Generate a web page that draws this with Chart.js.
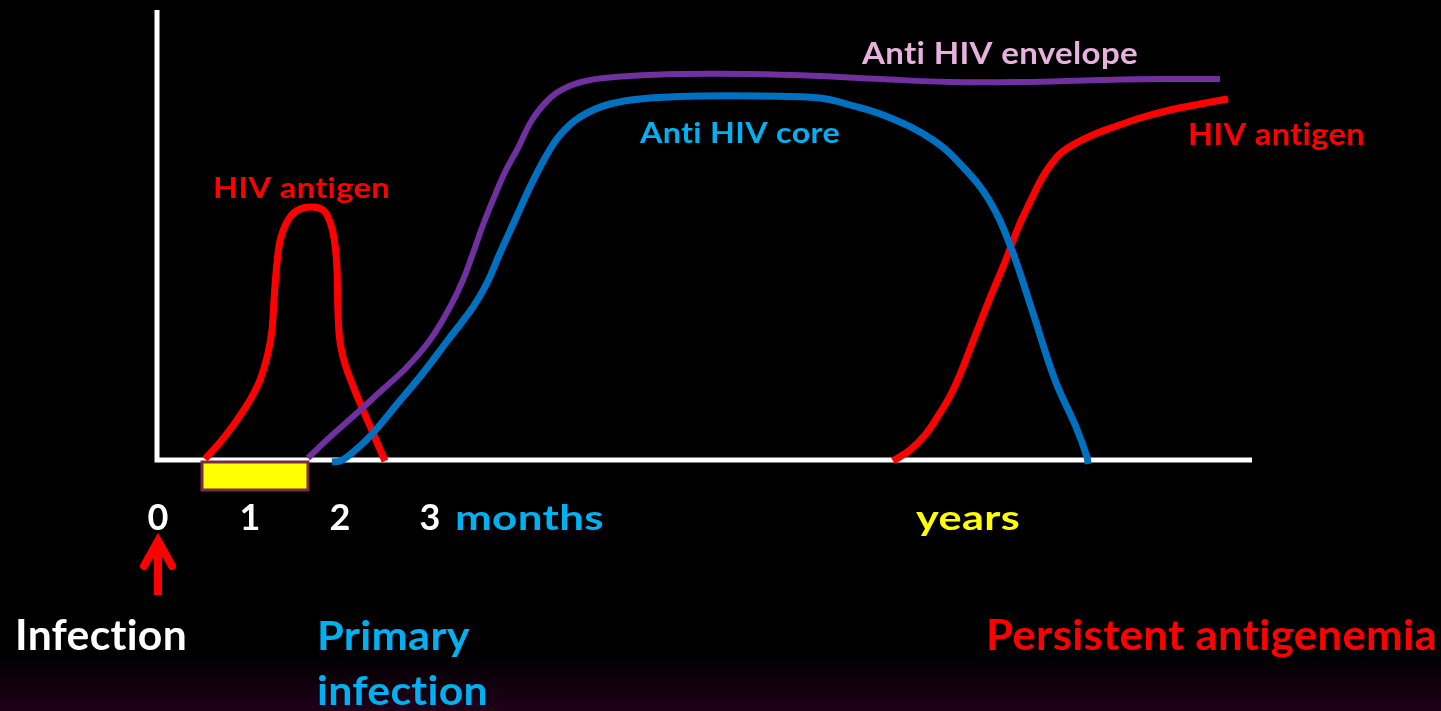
<!DOCTYPE html>
<html>
<head>
<meta charset="utf-8">
<script src="https://cdn.jsdelivr.net/npm/chart.js@4.4.1/dist/chart.umd.min.js"></script>
<style>
  html, body { margin: 0; padding: 0; }
  body { width: 1441px; height: 711px; overflow: hidden;
         background: linear-gradient(to bottom, #000 0px, #000 655px, #200019 711px); }
  #wrap { position: absolute; left: 0; top: 0; width: 1441px; height: 711px; }
</style>
</head>
<body>
<div id="wrap"><canvas id="c" width="1441" height="711"></canvas></div>
<script>
// ---- data (x: time position on the drawn axis, y: relative level) ----
const antigenEarlyX = [48, 65, 80, 93, 103, 111, 115, 117, 120, 124, 133, 143, 156, 167, 174, 178, 180, 181, 183, 188, 196, 206, 216, 228];
const antigenEarlyY = [1, 20, 40, 60, 80, 107, 130, 160, 197, 223, 243, 251, 253, 249, 235, 215, 190, 147, 118, 96, 74, 50, 27, -1];

const envelopeX = [151, 173, 200, 225, 250, 273, 293, 306, 316, 326, 336, 348, 361, 375, 391, 408, 433, 473, 523, 593, 663, 723, 793, 863, 943, 1003, 1063];
const envelopeY = [2, 23, 47, 70, 93, 120, 153, 180, 207, 235, 260, 288, 312, 340, 360, 372, 380, 384, 386, 386, 384, 381, 378, 378, 380, 381, 381];

const coreX = [175, 183, 190, 203, 216, 241, 266, 291, 316, 330, 343, 358, 373, 388, 403, 423, 453, 493, 543, 603, 663, 693, 731, 776, 806, 832, 853, 875, 898, 919, 930, 931];
const coreY = [-2, -1, 3, 14, 27, 57, 87, 120, 153, 177, 207, 240, 273, 302, 325, 343, 356, 362, 364, 364, 362, 355, 343, 320, 293, 260, 215, 150, 80, 33, 3, -4];

const antigenLateX = [736, 753, 768, 781, 793, 804, 818, 833, 848, 861, 874, 885, 895, 905, 919, 938, 957, 983, 1013, 1043, 1071];
const antigenLateY = [-1, 10, 25, 44, 64, 88, 124, 162, 198, 232, 260, 282, 297, 308, 317, 326, 333, 342, 350, 356, 361];

const primaryWindowX = [45, 151];      // yellow box extent on the time axis
const primaryWindowY = [-2, -30];

const monthTickValues = [1, 93, 183, 273];
const monthTickLabels = ['0', '1', '2', '3'];

const curveLabels = ['HIV antigen', 'Anti HIV envelope', 'Anti HIV core', 'HIV antigen'];
const axisWords = ['months', 'years'];
const eventLabels = ['Infection', 'Primary', 'infection', 'Persistent antigenemia'];

// ---- build series ----
function pts(xs, ys) { return xs.map((x, i) => ({ x: x, y: ys[i] })); }

const FONT = 'Lato, "Open Sans", sans-serif';

function drawText(ctx, text, left, baseline, width, size, color) {
  ctx.save();
  ctx.font = 'bold ' + size + 'px ' + FONT;
  ctx.letterSpacing = '0.3px';
  const w = ctx.measureText(text).width;
  const sx = width / w;
  ctx.translate(left, baseline);
  ctx.scale(sx, 1);
  ctx.fillStyle = color;
  ctx.textBaseline = 'alphabetic';
  ctx.textAlign = 'left';
  ctx.fillText(text, 0, 0);
  ctx.restore();
}

const decor = {
  id: 'decor',
  beforeDatasetsDraw(chart) {
    const ctx = chart.ctx, xs = chart.scales.x, ys = chart.scales.y;
    const x0 = xs.getPixelForValue(0), y0 = ys.getPixelForValue(0);
    ctx.save();
    ctx.strokeStyle = '#ffffff';
    ctx.lineWidth = 5;
    ctx.lineCap = 'butt';
    ctx.beginPath();
    ctx.moveTo(x0, ys.getPixelForValue(450));
    ctx.lineTo(x0, y0 + 2.5);
    ctx.moveTo(x0 - 2.5, y0);
    ctx.lineTo(xs.getPixelForValue(1095), y0);
    ctx.stroke();
    // primary infection window box
    const bx1 = xs.getPixelForValue(primaryWindowX[0]), bx2 = xs.getPixelForValue(primaryWindowX[1]);
    const by1 = ys.getPixelForValue(primaryWindowY[0]), by2 = ys.getPixelForValue(primaryWindowY[1]);
    ctx.fillStyle = '#ffff00';
    ctx.fillRect(bx1, by1, bx2 - bx1, by2 - by1);
    ctx.strokeStyle = '#7b2c45';
    ctx.lineWidth = 3;
    ctx.strokeRect(bx1, by1, bx2 - bx1, by2 - by1);
    ctx.restore();
  },
  afterDraw(chart) {
    const ctx = chart.ctx, xs = chart.scales.x;
    // month ticks
    ctx.save();
    ctx.font = 'bold 36px ' + FONT;
    ctx.fillStyle = '#ffffff';
    ctx.textAlign = 'center';
    ctx.textBaseline = 'alphabetic';
    monthTickValues.forEach((v, i) => ctx.fillText(monthTickLabels[i], xs.getPixelForValue(v), 530));
    ctx.restore();

    drawText(ctx, curveLabels[0], 213, 198, 177, 29, '#ff0000');
    drawText(ctx, curveLabels[1], 862, 64, 276, 30, '#e6b1dc');
    drawText(ctx, curveLabels[2], 640, 143, 200, 29, '#00b0f0');
    drawText(ctx, curveLabels[3], 1188, 145, 177, 30, '#ff0000');

    drawText(ctx, axisWords[0], 455, 530, 149, 35, '#00b0f0');
    drawText(ctx, axisWords[1], 916, 530, 104, 35, '#ffff00');

    drawText(ctx, eventLabels[0], 15, 650, 172, 42, '#ffffff');
    drawText(ctx, eventLabels[1], 317, 650, 153, 41, '#00b0f0');
    drawText(ctx, eventLabels[2], 317, 705, 171, 41, '#00b0f0');
    drawText(ctx, eventLabels[3], 986, 650, 451, 42, '#ff0000');

    // infection arrow at time 0
    const ax = xs.getPixelForValue(0) + 1;
    ctx.save();
    ctx.strokeStyle = '#ff0000';
    ctx.lineWidth = 8;
    ctx.lineCap = 'butt';
    ctx.beginPath();
    ctx.moveTo(ax, 595);
    ctx.lineTo(ax, 545);
    ctx.stroke();
    ctx.lineCap = 'round';
    ctx.lineJoin = 'miter';
    ctx.beginPath();
    ctx.moveTo(ax - 14, 566);
    ctx.lineTo(ax, 541);
    ctx.lineTo(ax + 14, 566);
    ctx.stroke();
    ctx.fillStyle = '#ff0000';
    ctx.beginPath();
    ctx.moveTo(ax, 536);
    ctx.lineTo(ax - 6, 548);
    ctx.lineTo(ax + 6, 548);
    ctx.closePath();
    ctx.fill();
    ctx.restore();
  }
};

function series(label, data, color, width) {
  return {
    label: label, data: data, borderColor: color, borderWidth: width,
    pointRadius: 0, fill: false, tension: 0.4,
    borderCapStyle: 'butt', borderJoinStyle: 'round', clip: false
  };
}

new Chart(document.getElementById('c'), {
  type: 'line',
  data: {
    datasets: [
      series('Anti HIV envelope', pts(envelopeX, envelopeY), '#7030a0', 6),
      series('Anti HIV core', pts(coreX, coreY), '#0070c0', 7),
      series('HIV antigen (early)', pts(antigenEarlyX, antigenEarlyY), '#ff0000', 7),
      series('HIV antigen (late)', pts(antigenLateX, antigenLateY), '#ff0000', 7)
    ]
  },
  options: {
    responsive: false,
    devicePixelRatio: 1,
    animation: false,
    layout: { padding: { left: 157, right: 189, top: 10, bottom: 251 } },
    plugins: { legend: { display: false }, tooltip: { enabled: false } },
    scales: {
      x: { type: 'linear', min: 0, max: 1095, display: false },
      y: { type: 'linear', min: 0, max: 450, display: false }
    }
  },
  plugins: [decor]
});
</script>
</body>
</html>
